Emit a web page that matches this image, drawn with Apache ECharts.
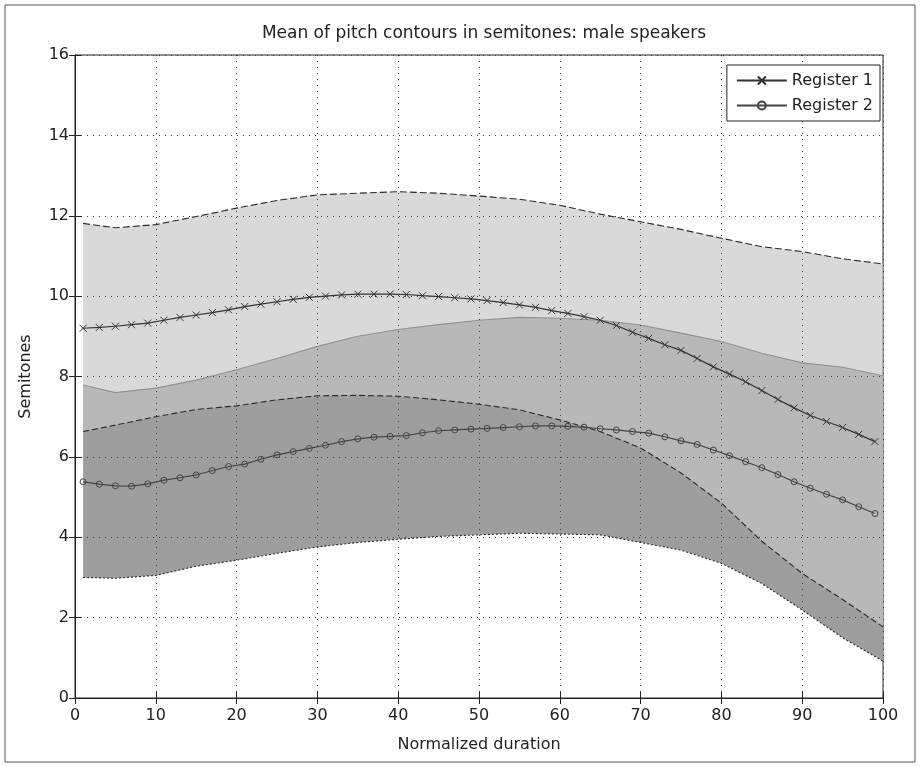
<!DOCTYPE html>
<html>
<head>
<meta charset="utf-8">
<script src="https://cdn.jsdelivr.net/npm/echarts@6/dist/echarts.min.js"></script>
<style>
  html, body { margin: 0; padding: 0; background: #fff; }
  #chart { width: 920px; height: 767px; }
</style>
</head>
<body>
<div id="chart"></div>
<script>
// sample positions of the mean contours (normalized duration)
const durX = [1, 3, 5, 7, 9, 11, 13, 15, 17, 19, 21, 23, 25, 27, 29, 31, 33, 35, 37, 39,
  41, 43, 45, 47, 49, 51, 53, 55, 57, 59, 61, 63, 65, 67, 69, 71, 73, 75, 77, 79,
  81, 83, 85, 87, 89, 91, 93, 95, 97, 99];

const reg1Mean = [9.20, 9.22, 9.25, 9.29, 9.33, 9.40, 9.47, 9.53, 9.59, 9.66, 9.74, 9.80, 9.86, 9.92, 9.97, 10.00, 10.03, 10.05, 10.05, 10.05,
  10.04, 10.01, 9.99, 9.96, 9.93, 9.89, 9.84, 9.78, 9.72, 9.64, 9.57, 9.49, 9.40, 9.27, 9.10, 8.95, 8.79, 8.65, 8.45, 8.24,
  8.06, 7.87, 7.65, 7.43, 7.22, 7.03, 6.88, 6.73, 6.56, 6.38];

const reg2Mean = [5.38, 5.32, 5.28, 5.27, 5.33, 5.42, 5.48, 5.55, 5.66, 5.76, 5.82, 5.94, 6.05, 6.13, 6.21, 6.29, 6.38, 6.45, 6.49, 6.51,
  6.53, 6.60, 6.65, 6.67, 6.69, 6.71, 6.73, 6.75, 6.77, 6.77, 6.76, 6.74, 6.70, 6.67, 6.63, 6.59, 6.50, 6.40, 6.31, 6.17,
  6.03, 5.88, 5.73, 5.56, 5.38, 5.22, 5.07, 4.93, 4.76, 4.59];

// sample positions of the spread bands
const bandX = [1, 5, 10, 15, 20, 25, 30, 35, 40, 45, 50, 55, 60, 65, 70, 75, 80, 85, 90, 95, 100];

const reg1Upper = [11.81, 11.70, 11.78, 11.98, 12.19, 12.38, 12.52, 12.56, 12.60, 12.56, 12.49, 12.41, 12.26, 12.04, 11.85, 11.66, 11.44, 11.23, 11.11, 10.93, 10.80];
const reg1Lower = [6.63, 6.79, 7.00, 7.18, 7.27, 7.42, 7.52, 7.53, 7.51, 7.42, 7.31, 7.17, 6.92, 6.63, 6.22, 5.60, 4.85, 3.90, 3.10, 2.45, 1.77];
const reg2Upper = [7.79, 7.60, 7.71, 7.91, 8.17, 8.45, 8.75, 9.00, 9.17, 9.29, 9.40, 9.47, 9.45, 9.40, 9.28, 9.08, 8.87, 8.58, 8.34, 8.23, 8.02];
const reg2Lower = [3.00, 2.98, 3.05, 3.28, 3.43, 3.60, 3.76, 3.87, 3.95, 4.02, 4.06, 4.10, 4.08, 4.06, 3.87, 3.68, 3.35, 2.85, 2.19, 1.50, 0.92];

const xTicks = [0, 10, 20, 30, 40, 50, 60, 70, 80, 90, 100];
const yTicks = [0, 2, 4, 6, 8, 10, 12, 14, 16];

const font = 'DejaVu Sans, Liberation Sans, sans-serif';
const ink = '#222';
const pair = (xs, ys) => xs.map((x, i) => [x, ys[i]]);

// band polygon + its two edges, placed through the axes with api.coord
function bandSeries(name, upper, lower, fill, opacity, upDash, loDash, z) {
  return {
    name: name, type: 'custom', z: z, silent: true,
    data: [[bandX[0], lower[0]]],
    renderItem: function (params, api) {
      const up = bandX.map((x, i) => api.coord([x, upper[i]]));
      const lo = bandX.map((x, i) => api.coord([x, lower[i]]));
      return {
        type: 'group',
        children: [
          { type: 'polygon', shape: { points: up.concat(lo.slice().reverse()) },
            style: { fill: fill, opacity: opacity } },
          { type: 'polyline', shape: { points: up },
            style: { fill: null, stroke: '#2a2a2a', lineWidth: 1.1, lineDash: upDash } },
          { type: 'polyline', shape: { points: lo },
            style: { fill: null, stroke: '#2a2a2a', lineWidth: 1.1, lineDash: loDash } }
        ]
      };
    }
  };
}

const gridDots = { show: true, lineStyle: { color: '#3a3a3a', type: [1, 5], width: 1 } };
const tickIn = { inside: true, length: 6, lineStyle: { color: ink } };

const chart = echarts.init(document.getElementById('chart'), null, { renderer: 'canvas' });

chart.setOption({
  animation: false,
  backgroundColor: '#fff',
  title: {
    text: 'Mean of pitch contours in semitones: male speakers',
    left: 479, top: 20, textAlign: 'center',
    textStyle: { fontFamily: font, fontSize: 17, fontWeight: 'normal', color: ink }
  },
  graphic: [{
    type: 'rect', shape: { x: 5, y: 5, width: 910, height: 757 },
    style: { fill: 'none', stroke: '#555', lineWidth: 1 }, silent: true, z: -1
  }],
  grid: { left: 75, right: 37, top: 55, bottom: 69, show: true, borderColor: ink, borderWidth: 1, backgroundColor: 'transparent' },
  legend: {
    data: ['Register 1', 'Register 2'],
    orient: 'vertical', right: 40, top: 65, z: 10,
    backgroundColor: '#fff', borderColor: ink, borderWidth: 1,
    padding: [6, 7, 6, 9], itemGap: 6, itemWidth: 50, itemHeight: 10,
    textStyle: { fontFamily: font, fontSize: 16, color: ink, lineHeight: 19 }
  },
  xAxis: [{
    type: 'value', min: 0, max: 100, interval: 10, z: 3,
    name: 'Normalized duration', nameLocation: 'middle', nameGap: 39,
    nameTextStyle: { fontFamily: font, fontSize: 16, color: ink },
    axisLine: { lineStyle: { color: ink } },
    axisTick: tickIn,
    axisLabel: { fontFamily: font, fontSize: 16, color: ink, margin: 10,
      formatter: v => xTicks.includes(v) ? String(v) : '' },
    splitLine: gridDots
  }, {
    type: 'value', position: 'top', min: 0, max: 100, interval: 10, z: 3,
    axisLine: { lineStyle: { color: ink } }, axisTick: tickIn,
    axisLabel: { show: false }, splitLine: { show: false }
  }],
  yAxis: [{
    type: 'value', min: 0, max: 16, interval: 2, z: 3,
    name: 'Semitones', nameLocation: 'middle', nameGap: 41,
    nameTextStyle: { fontFamily: font, fontSize: 16, color: ink },
    axisLine: { lineStyle: { color: ink } },
    axisTick: tickIn,
    axisLabel: { fontFamily: font, fontSize: 16, color: ink, margin: 6,
      formatter: v => yTicks.includes(v) ? String(v) : '' },
    splitLine: gridDots
  }, {
    type: 'value', position: 'right', min: 0, max: 16, interval: 2, z: 3,
    axisLine: { lineStyle: { color: ink } }, axisTick: tickIn,
    axisLabel: { show: false }, splitLine: { show: false }
  }],
  series: [
    // Register 2 spread (darker, opaque), then Register 1 spread (lighter, see-through)
    bandSeries('r2band', reg2Upper, reg2Lower, '#9e9e9e', 1, null, [2, 2], 1),
    bandSeries('r1band', reg1Upper, reg1Lower, 'rgb(198,198,198)', 0.66, [7, 3], [6, 3], 2),
    // mean contours
    {
      name: 'Register 1', type: 'line', data: pair(durX, reg1Mean), z: 5,
      symbol: 'path://M0,0L10,10M10,0L0,10', symbolSize: 7, showAllSymbol: true,
      lineStyle: { color: '#333', width: 1.2 },
      itemStyle: { color: 'rgba(0,0,0,0)', borderColor: '#333', borderWidth: 1 }
    },
    {
      name: 'Register 2', type: 'line', data: pair(durX, reg2Mean), z: 5,
      symbol: 'circle', symbolSize: 6, showAllSymbol: true,
      lineStyle: { color: '#444', width: 1.2 },
      itemStyle: { color: 'rgba(0,0,0,0)', borderColor: '#444', borderWidth: 1 }
    }
  ]
});
</script>
</body>
</html>
